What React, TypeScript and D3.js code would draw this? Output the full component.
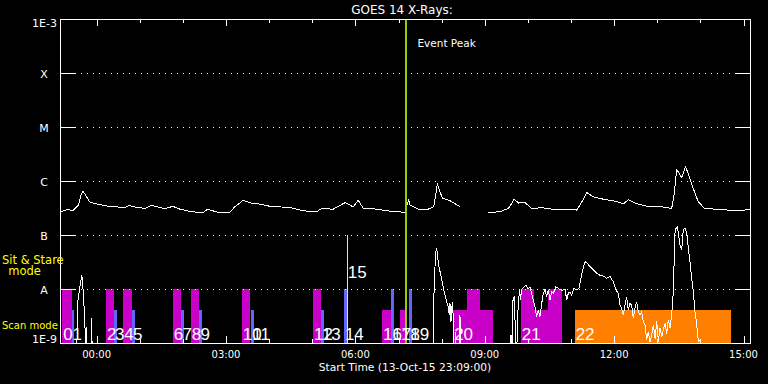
import React, { useEffect, useRef } from 'react';
import * as d3 from 'd3';

// time axis: 16 hours starting 13-Oct-15 23:09 UT
const START = Date.UTC(2015, 9, 13, 23, 9);
const SPAN_MIN = 960;

// GOES 14 long channel (1-8 A), [minutes after start, W/m^2]; null = data gap
const longChannel: [number, number | null][] = [
  [1, 2.7e-7], [11, 3.0e-7], [18, 2.8e-7], [23, 3.3e-7], [26, 3.6e-7], [29, 5.5e-7],
  [32, 6.5e-7], [37, 5.1e-7], [41, 4.1e-7], [53, 3.7e-7], [67, 3.4e-7], [81, 3.3e-7],
  [90, 3.2e-7], [96, 3.55e-7], [104, 3.3e-7], [118, 3.1e-7], [127, 3.55e-7], [136, 3.3e-7],
  [146, 3.07e-7], [157, 3.4e-7], [167, 3.0e-7], [183, 2.7e-7], [199, 2.6e-7], [205, 3.0e-7],
  [220, 2.63e-7], [236, 2.63e-7], [243, 3.3e-7], [255, 4.4e-7], [266, 3.9e-7], [280, 3.7e-7],
  [294, 3.35e-7], [308, 3.3e-7], [322, 3.2e-7], [329, 3.0e-7], [339, 2.8e-7], [357, 2.7e-7],
  [364, 3.1e-7], [380, 3.0e-7], [397, 4.0e-7], [403, 3.6e-7], [408, 3.3e-7], [415, 4.4e-7],
  [422, 3.1e-7], [436, 3.07e-7], [455, 2.8e-7], [480, 2.63e-7], [485, 4.45e-7], [487, 3.6e-7],
  [501, 2.9e-7], [512, 3.0e-7], [520, 3.35e-7], [525, 8.7e-7], [532, 4.8e-7], [543, 4.3e-7],
  [557, 3.3e-7], [576, null],
  [596, 2.6e-7], [612, 2.7e-7], [624, 3.1e-7], [632, 4.6e-7], [638, 3.9e-7], [647, 4.0e-7],
  [656, 3.1e-7], [670, 3.2e-7], [686, 3.0e-7], [700, 3.0e-7], [719, 2.9e-7], [726, 4.1e-7],
  [733, 6.1e-7], [742, 5.1e-7], [756, 4.6e-7], [770, 4.3e-7], [784, 3.8e-7], [791, 4.5e-7],
  [800, 3.9e-7], [814, 3.45e-7], [825, 3.35e-7], [839, 3.3e-7], [851, 3.1e-7], [854, 5.1e-7],
  [858, 1.6e-6], [860, 1.49e-6], [865, 1.15e-6], [870, 1.84e-6], [874, 1.39e-6], [881, 7.3e-7],
  [888, 4.1e-7], [897, 3.1e-7], [914, 3.0e-7], [928, 2.9e-7], [946, 2.8e-7], [960, 3.0e-7],
];

// GOES 14 short channel (0.5-4 A); values under 1E-9 are off the scale
const shortChannel: [number, number][] = [
  [19, 5e-10], [23, 5e-10], [25, 6.3e-9], [28, 1.2e-8], [30, 1.7e-8], [31, 1.6e-8],
  [33, 6.3e-9], [35, 1.7e-9], [36, 5e-10], [37, 2.0e-9], [38, 5e-10], [43, 5e-10],
  [44, 2.9e-9], [45, 5e-10],
  [519, 5e-10], [520, 6.3e-9], [522, 3.2e-8], [523.5, 5.7e-8], [524.4, 5.3e-8], [525.2, 4.1e-8],
  [527.7, 2.4e-8], [530, 1.8e-8], [532.4, 1.2e-8], [535.6, 7.7e-9], [538, 5.8e-9], [540.2, 4.7e-9],
  [541.6, 3.3e-9], [542.6, 5.4e-9], [544, 2.5e-9], [545.8, 5.8e-9], [547.2, 2.9e-9], [548.6, 5e-10],
  [550.5, 1.6e-9], [551.7, 5e-10], [555.5, 5e-10], [556.5, 3.3e-9], [557.6, 5e-10],
  [626, 5e-10], [627.5, 1.4e-9], [628.5, 5e-10], [630.3, 6.3e-9], [632.6, 7.4e-9], [633.8, 5e-10],
  [635.1, 5e-10], [637.2, 4.1e-9], [639.3, 9.6e-9], [640.7, 6.3e-9], [642, 9.6e-9], [645.5, 1.09e-8],
  [648.3, 1.18e-8], [651, 1.0e-8], [653.9, 1.09e-8], [658.5, 6.3e-9], [660.9, 4.7e-9], [663.2, 3.1e-9],
  [665.5, 4.1e-9], [667.8, 3.1e-9], [670.2, 5.4e-9], [672.4, 8.3e-9], [674.8, 9.9e-9], [677.1, 7.2e-9],
  [679.4, 9.6e-9], [681.7, 6.3e-9], [684.1, 8.9e-9], [686.3, 8.3e-9], [690, 1.1e-8], [693.3, 1.03e-8],
  [698, 9.3e-9], [702.6, 9.9e-9], [705, 6.3e-9], [707.2, 8.3e-9], [709.6, 8.9e-9], [711.9, 7.7e-9],
  [715.1, 1.03e-8], [718.9, 9.6e-9], [722.1, 1.03e-8], [724.4, 1.47e-8], [727.2, 2.25e-8], [730.4, 3.2e-8],
  [733.6, 3.0e-8], [737.4, 2.6e-8], [742, 2.25e-8], [746.7, 1.95e-8], [751.3, 1.8e-8], [755.9, 1.74e-8],
  [760.6, 1.58e-8], [765.2, 1.7e-8], [769.8, 1.36e-8], [772.2, 1.1e-8], [774.5, 9.2e-9], [776.8, 8.3e-9],
  [779.1, 5.0e-9], [781.5, 4.4e-9], [783.7, 3.3e-9], [786.1, 5.0e-9], [788.4, 7.2e-9], [790.7, 4.1e-9],
  [793, 5.4e-9], [795.4, 5.0e-9], [797.6, 2.86e-9], [800, 4.4e-9], [802.3, 5.8e-9], [804.6, 3.8e-9],
  [807, 3.3e-9], [809.3, 3.8e-9], [811.5, 2.5e-9], [813.9, 2.15e-9], [816.3, 1.14e-9], [818.5, 1.6e-9],
  [820.9, 1.06e-9], [823.3, 1.4e-9], [825.5, 2.15e-9], [827.9, 1.2e-9], [830.2, 2.5e-9], [832.5, 1.06e-9],
  [834.8, 1.87e-9], [837.2, 1.3e-9], [839.4, 1.74e-9], [841.8, 2.3e-9], [844.1, 1.5e-9], [846.4, 2.7e-9],
  [848.7, 1.87e-9], [851, 3.3e-9], [853.3, 8.9e-9], [854.7, 4.3e-8], [855.7, 1.15e-7], [857.1, 1.33e-7],
  [858.9, 1.43e-7], [860.3, 1.07e-7], [862.6, 6.5e-8], [865, 5.3e-8], [867.2, 1.25e-7], [869.6, 1.33e-7],
  [871.9, 1.07e-7], [874.2, 5.7e-8], [876.5, 3.2e-8], [878.9, 1.58e-8], [881.1, 8.9e-9], [883.5, 3.8e-9],
  [885.9, 2.15e-9], [888.1, 1.06e-9], [890.4, 1.14e-9], [891.8, 5e-10], [960, 5e-10],
];

// y axis
const yTickValues = [1e-3, 1e-4, 1e-5, 1e-6, 1e-7, 1e-8, 1e-9];
const yTickLabels = ['1E-3', 'X', 'M', 'C', 'B', 'A', '1E-9'];

// observation bars (UT clock times), colour key and bar top (flux units)
const barStart = ['23:12', '23:25', '00:13', '00:24', '00:37', '00:49', '01:46', '01:58', '02:11', '02:23',
  '03:22', '03:35', '05:01', '05:12', '05:44', '06:37', '06:50', '07:02', '07:15', '08:16', '08:35',
  '09:50', '09:50', '10:28', '11:05'];
const barEnd = ['23:25', '23:28', '00:24', '00:28', '00:49', '00:53', '01:57', '02:02', '02:22', '02:27',
  '03:33', '03:39', '05:12', '05:16', '05:48', '06:50', '06:53', '07:10', '07:19', '09:11', '08:53',
  '10:47', '10:09', '10:47', '14:43'];
const barKind = ['m', 'b', 'm', 'b', 'm', 'b', 'm', 'b', 'm', 'b', 'm', 'b', 'm', 'b', 'b', 'm', 'b', 'm', 'b',
  'm', 'm', 'm', 'm', 'm', 'o'];
const barTop = [1e-8, 4e-9, 1e-8, 4e-9, 1e-8, 4e-9, 1e-8, 4e-9, 1e-8, 4e-9, 1e-8, 4e-9, 1e-8, 4e-9, 1e-8,
  4e-9, 1e-8, 4e-9, 1e-8, 4e-9, 1e-8, 4e-9, 1e-8, 1e-8, 4e-9];
const kindColor: Record<string, string> = { m: '#c800c8', b: '#6464ff', o: '#ff8000' };

// observation numbers
const obsLabel = ['0', '1', '2', '3', '4', '5', '6', '7', '8', '9', '10', '11', '12', '13', '14',
  '16', '17', '18', '19', '20', '21', '22'];
const obsTime = ['23:12', '23:25', '00:13', '00:24', '00:37', '00:49', '01:46', '01:58', '02:11', '02:23',
  '03:22', '03:35', '05:01', '05:12', '05:44', '06:37', '06:50', '07:02', '07:15', '08:16', '09:50', '11:05'];

// sit & stare pointing
const stareTime = '05:48';
const stareLabel = '15';
const stareTop = 1e-7;

const eventPeak = '07:11';

const parseClock = (s: string) => {
  const [h, m] = s.split(':').map(Number);
  return new Date(Date.UTC(2015, 9, h >= 23 ? 13 : 14, h, m));
};
const minToDate = (m: number) => new Date(START + m * 60000);

const FONT = 'DejaVu Sans';

export default function App() {
  const ref = useRef<SVGSVGElement>(null);
  const width = 768;
  const height = 384;
  const margin = { top: 19, right: 18, bottom: 41, left: 60 };

  useEffect(() => {
    const svg = d3.select(ref.current);
    svg.selectAll('*').remove();

    const x = d3
      .scaleUtc()
      .domain([new Date(START), new Date(START + SPAN_MIN * 60000)])
      .range([margin.left, width - margin.right]);
    const y = d3
      .scaleLog()
      .domain([1e-9, 1e-3])
      .range([height - margin.bottom, margin.top]);

    const x0 = margin.left;
    const x1 = width - margin.right;
    const y0 = margin.top;
    const y1 = height - margin.bottom;

    svg.append('rect').attr('width', width).attr('height', height).attr('fill', '#000');

    svg
      .append('clipPath')
      .attr('id', 'plotclip')
      .append('rect')
      .attr('x', x0)
      .attr('y', y0)
      .attr('width', x1 - x0)
      .attr('height', y1 - y0 + 0.5);

    // sit & stare line
    const sx = Math.round(x(parseClock(stareTime))) + 0.5;
    svg
      .append('line')
      .attr('x1', sx)
      .attr('x2', sx)
      .attr('y1', y(stareTop))
      .attr('y2', y1)
      .attr('stroke', '#ffff00')
      .attr('stroke-width', 1)
      .attr('shape-rendering', 'crispEdges');

    // bars
    svg
      .append('g')
      .selectAll('rect')
      .data(barStart.map((s, i) => i))
      .join('rect')
      .attr('x', (i) => x(parseClock(barStart[i])))
      .attr('width', (i) => x(parseClock(barEnd[i])) - x(parseClock(barStart[i])))
      .attr('y', (i) => y(barTop[i]))
      .attr('height', (i) => y1 - y(barTop[i]))
      .attr('fill', (i) => kindColor[barKind[i]])
      .attr('shape-rendering', 'crispEdges');

    // dotted grid + side ticks
    const grid = svg.append('g');
    yTickValues.slice(1, -1).forEach((v) => {
      const yy = Math.round(y(v)) + 0.5;
      grid
        .append('line')
        .attr('x1', x0 + 15)
        .attr('x2', x1 - 14)
        .attr('y1', yy)
        .attr('y2', yy)
        .attr('stroke', '#fff')
        .attr('stroke-dasharray', '1 5')
        .attr('shape-rendering', 'crispEdges');
      grid
        .append('line')
        .attr('x1', x0)
        .attr('x2', x0 + 15)
        .attr('y1', yy)
        .attr('y2', yy)
        .attr('stroke', '#fff')
        .attr('shape-rendering', 'crispEdges');
      grid
        .append('line')
        .attr('x1', x1 - 14)
        .attr('x2', x1)
        .attr('y1', yy)
        .attr('y2', yy)
        .attr('stroke', '#fff')
        .attr('shape-rendering', 'crispEdges');
    });

    // time ticks, top and bottom
    const hours = d3.utcHour.range(new Date(START), new Date(START + SPAN_MIN * 60000));
    hours.forEach((h) => {
      const xx = Math.round(x(h)) + 0.5;
      const len = h.getUTCHours() % 3 === 0 ? 7 : 4;
      grid.append('line').attr('x1', xx).attr('x2', xx).attr('y1', y0).attr('y2', y0 + len)
        .attr('stroke', '#fff').attr('shape-rendering', 'crispEdges');
      grid.append('line').attr('x1', xx).attr('x2', xx).attr('y1', y1).attr('y2', y1 - len)
        .attr('stroke', '#fff').attr('shape-rendering', 'crispEdges');
    });
    svg
      .append('g')
      .selectAll('text')
      .data(hours.filter((h) => h.getUTCHours() % 3 === 0))
      .join('text')
      .attr('x', (h) => x(h))
      .attr('y', 358)
      .attr('text-anchor', 'middle')
      .attr('fill', '#fff')
      .style('font', `10px "${FONT}"`)
      .text((h) => d3.utcFormat('%H:%M')(h));

    // curves
    const line = d3
      .line<[number, number | null]>()
      .defined((d) => d[1] !== null)
      .x((d) => x(minToDate(d[0])))
      .y((d) => y(d[1] as number));

    svg
      .append('path')
      .attr('d', line(shortChannel))
      .attr('clip-path', 'url(#plotclip)')
      .attr('fill', 'none')
      .attr('stroke', '#fff')
      .attr('stroke-width', 1)
      .attr('shape-rendering', 'crispEdges');

    svg
      .append('path')
      .attr('d', line(longChannel))
      .attr('fill', 'none')
      .attr('stroke', '#fff')
      .attr('stroke-width', 1)
      .attr('shape-rendering', 'crispEdges');

    // event peak
    const ex = x(parseClock(eventPeak));
    svg
      .append('line')
      .attr('x1', ex)
      .attr('x2', ex)
      .attr('y1', y0)
      .attr('y2', y1)
      .attr('stroke', '#9acd00')
      .attr('stroke-width', 2)
      .attr('shape-rendering', 'crispEdges');
    svg
      .append('text')
      .attr('x', ex + 11)
      .attr('y', 46.5)
      .attr('fill', '#fff')
      .style('font', `10.5px "${FONT}"`)
      .text('Event Peak');

    // frame
    svg
      .append('rect')
      .attr('x', x0 + 0.5)
      .attr('y', y0 + 0.5)
      .attr('width', x1 - x0)
      .attr('height', y1 - y0)
      .attr('fill', 'none')
      .attr('stroke', '#fff')
      .attr('shape-rendering', 'crispEdges');

    // observation numbers (they overlap in the original too)
    svg
      .append('g')
      .selectAll('text')
      .data(obsLabel.map((s, i) => i))
      .join('text')
      .attr('x', (i) => x(parseClock(obsTime[i])) + 1)
      .attr('y', 339.5)
      .attr('fill', '#fff')
      .style('font', '17px "Liberation Sans"')
      .text((i) => obsLabel[i]);
    svg
      .append('text')
      .attr('x', x(parseClock(stareTime)) + 1)
      .attr('y', 277.5)
      .attr('fill', '#fff')
      .style('font', '17px "Liberation Sans"')
      .text(stareLabel);

    // y labels
    svg
      .append('g')
      .selectAll('text')
      .data(yTickValues)
      .join('text')
      .attr('x', (v, i) => (i === 0 || i === yTickValues.length - 1 ? 57 : 44))
      .attr('y', (v, i) => (i === 0 ? y(v) + 8.3 : i === yTickValues.length - 1 ? y(v) + 0.3 : y(v) + 4.5))
      .attr('text-anchor', (v, i) => (i === 0 || i === yTickValues.length - 1 ? 'end' : 'middle'))
      .attr('fill', '#fff')
      .style('font', `11px "${FONT}"`)
      .text((v, i) => yTickLabels[i]);

    // row captions
    const cap = svg.append('g').attr('fill', '#ffff00').style('font', `11.5px "${FONT}"`);
    cap.append('text').attr('x', 2).attr('y', 263.5).text('Sit & Stare');
    cap.append('text').attr('x', 24.5).attr('y', 275).attr('text-anchor', 'middle').text('mode');
    cap.append('text').attr('x', 2).attr('y', 328.5).style('font-size', '10px').text('Scan mode');

    // titles
    svg
      .append('text')
      .attr('x', 402)
      .attr('y', 14)
      .attr('text-anchor', 'middle')
      .attr('fill', '#fff')
      .style('font', `12px "${FONT}"`)
      .text('GOES 14 X-Rays:');
    svg
      .append('text')
      .attr('x', 405)
      .attr('y', 371)
      .attr('text-anchor', 'middle')
      .attr('fill', '#fff')
      .style('font', `10.7px "${FONT}"`)
      .text('Start Time (13-Oct-15 23:09:00)');
  }, []);

  return (
    <svg
      ref={ref}
      width={width}
      height={height}
      style={{ position: 'absolute', left: 0, top: 0, background: '#000' }}
    />
  );
}
